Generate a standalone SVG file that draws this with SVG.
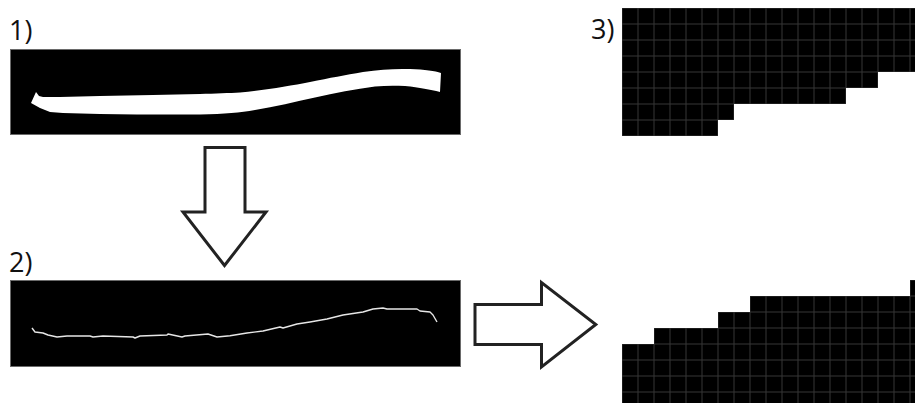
<svg xmlns="http://www.w3.org/2000/svg" width="915" height="403" viewBox="0 0 915 403">
<style>
.lbl{font-family:"Open Sans","Liberation Sans",sans-serif;font-size:27px;fill:#111}
.panel{fill:#000;stroke:#6a6a6a;stroke-width:1}
.arrow{fill:#fff;stroke:#222;stroke-width:3;stroke-linejoin:miter}
.thick{fill:#fff}
.thin{fill:none;stroke:#e6e6e6;stroke-width:1.4;stroke-linejoin:round}
.grid{fill:url(#cells)}
</style>
<defs>
<pattern id="cells" patternUnits="userSpaceOnUse" x="621.5" y="7.5" width="16" height="16">
<rect width="16" height="16" fill="#000"/>
<rect width="16" height="1" fill="#353535"/>
<rect width="1" height="16" fill="#353535"/>
</pattern>
</defs>
<g id="panel1">
<text class="lbl" x="9" y="40">1)</text>
<rect class="panel" x="10.5" y="49.5" width="450" height="85"/>
<path class="thick" d="M36,92 L39,96 L43,97 L60,97 L100,96 L153,95 L200,94 C215,93.5 230,93 240,92.5 C265,90 290,86 310,82 C330,78 345,75 363,72 C380,69.5 395,68.5 410,69 C425,69.5 435,71 441,73 L440,92 C430,89.5 420,87.5 405,86 C395,85.5 385,85.5 375,86.5 C355,89 335,93 315,97.5 C295,102 275,106.5 255,110 C240,112.5 225,114 200,114.5 L137,114.5 L100,114 L63,113 L50,112 L40,108 L31,103 Z"/>
</g>
<g id="panel2">
<text class="lbl" x="9" y="272">2)</text>
<rect class="panel" x="10.5" y="280.5" width="450" height="86"/>
<polyline class="thin" points="32,328 35,332 43,333 48,335 57,337 67,336 90,336 93,337 103,336 133,337 135,338 140,336 167,335 168,334 182,337 185,336 208,334 217,337 230,335.7 247,333 263,331 280,327 283,328 297,324 310,322 327,319 343,315 363,312 373,309 383,308 387,309 417,309 420,311 430,312 433,315 437,322"/>
</g>
<g id="panel3">
<text class="lbl" x="591" y="39">3)</text>
<path class="grid" d="M622,8 L915,8 L915,72 L878,72 L878,88 L846,88 L846,104 L734,104 L734,120 L718,120 L718,136 L622,136 Z"/>
</g>
<g id="panel4">
<path class="grid" d="M622,344 L654,344 L654,328 L718,328 L718,312 L750,312 L750,296 L910,296 L910,280 L915,280 L915,403 L622,403 Z"/>
</g>
<g id="connectors">
<polygon class="arrow" points="205,147.5 245,147.5 245,212 266,212 224.5,265.5 183,212 205,212"/>
<polygon class="arrow" points="475,304.5 541.5,304.5 541.5,282.5 595.8,324.5 541.5,367 541.5,344.5 475,344.5"/>
</g>
</svg>
